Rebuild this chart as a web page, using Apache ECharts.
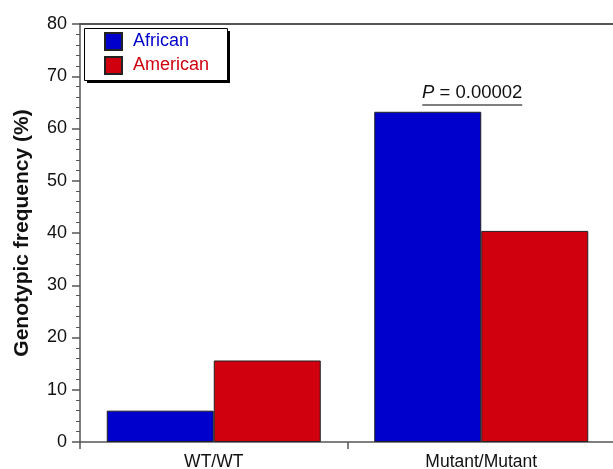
<!DOCTYPE html>
<html>
<head>
<meta charset="utf-8">
<script src="https://cdn.jsdelivr.net/npm/echarts@6/dist/echarts.min.js"></script>
<style>
  html, body { margin: 0; padding: 0; background: #fff; overflow: hidden; }
  #chart { width: 613px; height: 469px; }
</style>
</head>
<body>
<div id="chart"></div>
<script>
// Genotype groups and frequencies (%) for each population
const categories = ['WT/WT', 'Mutant/Mutant'];
const african = [6, 63.2];
const american = [15.6, 40.4];
const yTicks = [0, 10, 20, 30, 40, 50, 60, 70, 80];
const pValueText = '0.00002';

const BLUE = '#0000CC';
const RED = '#D0000F';
const AXIS = '#555';
const FONT = '"Liberation Sans", Arial, sans-serif';

const chart = echarts.init(document.getElementById('chart'));

const option = {
  animation: false,
  backgroundColor: '#fff',
  grid: { left: 80, top: 24, width: 535, bottom: 27, outerBoundsMode: 'none', containLabel: false },
  legend: {
    left: 84, top: 28,
    orient: 'vertical',
    icon: 'rect',
    itemWidth: 17, itemHeight: 17, itemGap: 5,
    padding: [4, 16, 8, 20],
    textStyle: { fontFamily: FONT, fontSize: 18, padding: [0, 0, 0, 6] },
    data: [
      { name: 'African', textStyle: { color: BLUE } },
      { name: 'American', textStyle: { color: RED } }
    ]
  },
  xAxis: [
    {
      type: 'category',
      data: categories,
      axisLine: { lineStyle: { color: AXIS, width: 1.5 } },
      axisTick: { show: true, length: 7, lineStyle: { color: AXIS, width: 1.5 } },
      axisLabel: { fontFamily: FONT, fontSize: 17.5, color: '#111', margin: 11 },
      splitLine: { show: false }
    },
    {
      // frame line along the top of the plot
      type: 'category',
      data: categories,
      position: 'top',
      axisLine: { show: true, lineStyle: { color: AXIS, width: 2 } },
      axisTick: { show: false },
      axisLabel: { show: false },
      splitLine: { show: false }
    }
  ],
  yAxis: {
    type: 'value',
    min: yTicks[0], max: yTicks[yTicks.length - 1], interval: yTicks[1] - yTicks[0],
    name: 'Genotypic frequency (%)',
    nameLocation: 'middle', nameRotate: 90, nameGap: 47,
    nameTextStyle: { fontFamily: FONT, fontSize: 21, fontWeight: 'bold', color: '#111' },
    axisLine: { show: true, lineStyle: { color: AXIS, width: 1.5 } },
    axisTick: { show: true, length: 8, lineStyle: { color: AXIS, width: 1.5 } },
    minorTick: { show: true, splitNumber: 5, length: 4, lineStyle: { color: AXIS } },
    axisLabel: { fontFamily: FONT, fontSize: 18, color: '#111', margin: 13 },
    splitLine: { show: false }
  },
  series: [
    {
      name: 'African', type: 'bar', data: african,
      barWidth: '40%', barGap: '0%',
      itemStyle: { color: BLUE, borderColor: '#222', borderWidth: 1 }
    },
    {
      name: 'American', type: 'bar', data: american,
      barWidth: '40%', barGap: '0%',
      itemStyle: { color: RED, borderColor: '#222', borderWidth: 1 }
    }
  ]
};

chart.setOption(option);

// Significance annotation above the Mutant/Mutant pair, plus the legend frame
const center = chart.convertToPixel({ xAxisIndex: 0 }, categories[1]);
const lineY = chart.convertToPixel({ yAxisIndex: 0 }, 64.5);
const cx = center - 9;
chart.setOption({
  graphic: [
    {
      type: 'rect', z: 0, zlevel: 0,
      shape: { x: 87, y: 31, width: 143, height: 52 },
      style: { fill: '#000' }
    },
    {
      type: 'rect', z: 1, zlevel: 0,
      shape: { x: 84.5, y: 28.5, width: 143, height: 52 },
      style: { fill: '#fff', stroke: '#000', lineWidth: 1 }
    },
    {
      type: 'line',
      shape: { x1: cx - 50, y1: lineY, x2: cx + 50, y2: lineY },
      style: { stroke: AXIS, lineWidth: 1.5 }
    },
    {
      type: 'text',
      x: cx, y: lineY - 3,
      style: {
        text: '{p|P} = ' + pValueText,
        rich: { p: { fontStyle: 'italic', fontFamily: FONT, fontSize: 18.5, fill: '#111' } },
        font: '18.5px ' + FONT,
        fill: '#111',
        align: 'center', verticalAlign: 'bottom'
      }
    }
  ]
});
</script>
</body>
</html>
